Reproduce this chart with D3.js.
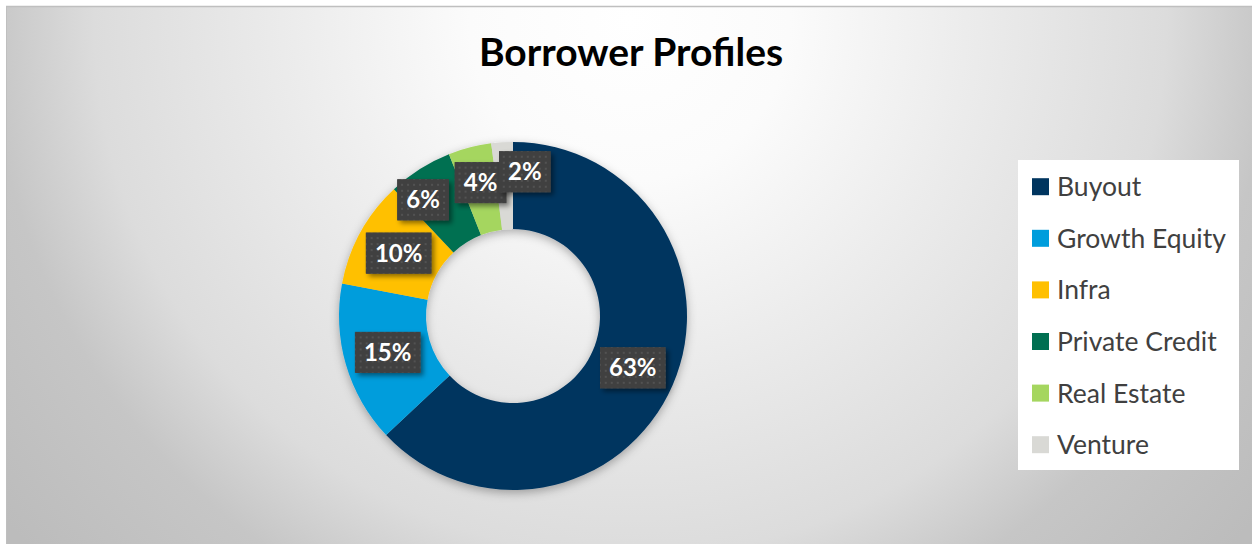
<!DOCTYPE html>
<html>
<head>
<meta charset="utf-8">
<script src="https://cdn.jsdelivr.net/npm/d3@7"></script>
<style>
  body { margin: 0; background: #fff; }
  svg { display: block; font-family: Lato, "Open Sans", sans-serif; }
</style>
</head>
<body>
<script>
const categories = ["Buyout", "Growth Equity", "Infra", "Private Credit", "Real Estate", "Venture"];
const shares = [63, 15, 10, 6, 4, 2];
const colors = ["#00355f", "#009ddc", "#ffc000", "#006f51", "#a5d65f", "#d9d9d5"];
// small slices have their labels pushed apart, like the original
const labelNudge = {"Private Credit": [-20, -6], "Real Estate": [0, -7], "Venture": [20, -14]};

const data = categories.map((c, i) => ({name: c, value: shares[i], color: colors[i]}));

const w = 1252, h = 544;
const cx = 513, cy = 316, outerR = 174, innerR = 87;

const svg = d3.select("body").append("svg")
  .attr("width", w)
  .attr("height", h);

const defs = svg.append("defs");

const grad = defs.append("radialGradient")
  .attr("id", "bg")
  .attr("gradientUnits", "userSpaceOnUse")
  .attr("cx", 630).attr("cy", 20).attr("r", 800);
[[0, "#ffffff"], [0.2, "#fbfbfb"], [0.42, "#ececec"], [0.67, "#dcdcdc"], [0.8, "#c6c6c6"], [1, "#bcbcbc"]]
  .forEach(s => grad.append("stop").attr("offset", s[0]).attr("stop-color", s[1]));

const dots = defs.append("pattern")
  .attr("id", "dots")
  .attr("patternUnits", "userSpaceOnUse")
  .attr("width", 6).attr("height", 6);
dots.append("rect").attr("width", 6).attr("height", 6).attr("fill", "#404040");
dots.append("rect").attr("x", 2).attr("y", 2).attr("width", 2).attr("height", 2).attr("fill", "#525252");

defs.append("filter").attr("id", "donutShadow")
  .attr("x", "-20%").attr("y", "-20%").attr("width", "140%").attr("height", "140%")
  .append("feDropShadow")
  .attr("dx", 0).attr("dy", 3).attr("stdDeviation", 5)
  .attr("flood-color", "#000").attr("flood-opacity", 0.3);

defs.append("filter").attr("id", "boxShadow")
  .attr("x", "-30%").attr("y", "-30%").attr("width", "170%").attr("height", "170%")
  .append("feDropShadow")
  .attr("dx", 3).attr("dy", 3).attr("stdDeviation", 2.5)
  .attr("flood-color", "#000").attr("flood-opacity", 0.45);

// chart area
svg.append("rect")
  .attr("x", 6).attr("y", 6)
  .attr("width", w).attr("height", h)
  .attr("fill", "url(#bg)");
svg.append("line")
  .attr("x1", 6).attr("x2", w).attr("y1", 6.5).attr("y2", 6.5)
  .attr("stroke", "#bfbfbf").attr("stroke-width", 1.5);
svg.append("line")
  .attr("x1", 6.5).attr("x2", 6.5).attr("y1", 6).attr("y2", h)
  .attr("stroke", "#bfbfbf").attr("stroke-width", 1);

svg.append("text")
  .attr("x", 631).attr("y", 66)
  .attr("text-anchor", "middle")
  .attr("font-size", 39)
  .attr("font-weight", "bold")
  .attr("fill", "#000")
  .text("Borrower Profiles");

const pie = d3.pie().sort(null).value(d => d.value);
const arc = d3.arc().innerRadius(innerR).outerRadius(outerR);
const labelArc = d3.arc().innerRadius((innerR + outerR) / 2).outerRadius((innerR + outerR) / 2);

const donut = svg.append("g")
  .attr("transform", "translate(" + cx + "," + cy + ")");

donut.append("g")
  .attr("filter", "url(#donutShadow)")
  .selectAll("path")
  .data(pie(data))
  .enter()
  .append("path")
  .attr("d", arc)
  .attr("fill", d => d.data.color);

const labels = donut.selectAll(".lbl")
  .data(pie(data))
  .enter()
  .append("g")
  .attr("class", "lbl")
  .attr("transform", d => {
    const c = labelArc.centroid(d);
    const n = labelNudge[d.data.name] || [0, 0];
    return "translate(" + (c[0] + n[0]) + "," + (c[1] + n[1]) + ")";
  });

labels.each(function(d) {
  const g = d3.select(this);
  const bgRect = g.append("rect").attr("fill", "#404040").attr("filter", "url(#boxShadow)");
  const patRect = g.append("rect").attr("fill", "url(#dots)");
  const t = g.append("text")
    .attr("text-anchor", "middle")
    .attr("dy", "0.36em")
    .attr("font-size", 24)
    .attr("font-weight", "bold")
    .attr("fill", "#fff")
    .text(d.data.value + "%");
  const tw = t.node().getComputedTextLength() + 18;
  [bgRect, patRect].forEach(r => r
    .attr("x", -tw / 2).attr("y", -20.5)
    .attr("width", tw).attr("height", 41));
});

// legend
const legend = svg.append("g");
legend.append("rect")
  .attr("x", 1018).attr("y", 160)
  .attr("width", 221).attr("height", 310)
  .attr("fill", "#fff");

const ly = d3.scalePoint().domain(categories).range([186.7, 444.7]);

const items = legend.selectAll(".item")
  .data(data)
  .enter()
  .append("g")
  .attr("class", "item")
  .attr("transform", d => "translate(1032," + ly(d.name) + ")");

items.append("rect")
  .attr("x", 0).attr("y", -8.5)
  .attr("width", 17).attr("height", 17)
  .attr("fill", d => d.color);

items.append("text")
  .attr("x", 25)
  .attr("dy", "0.36em")
  .attr("font-size", 26.5)
  .attr("fill", "#404040")
  .text(d => d.name);
</script>
</body>
</html>
